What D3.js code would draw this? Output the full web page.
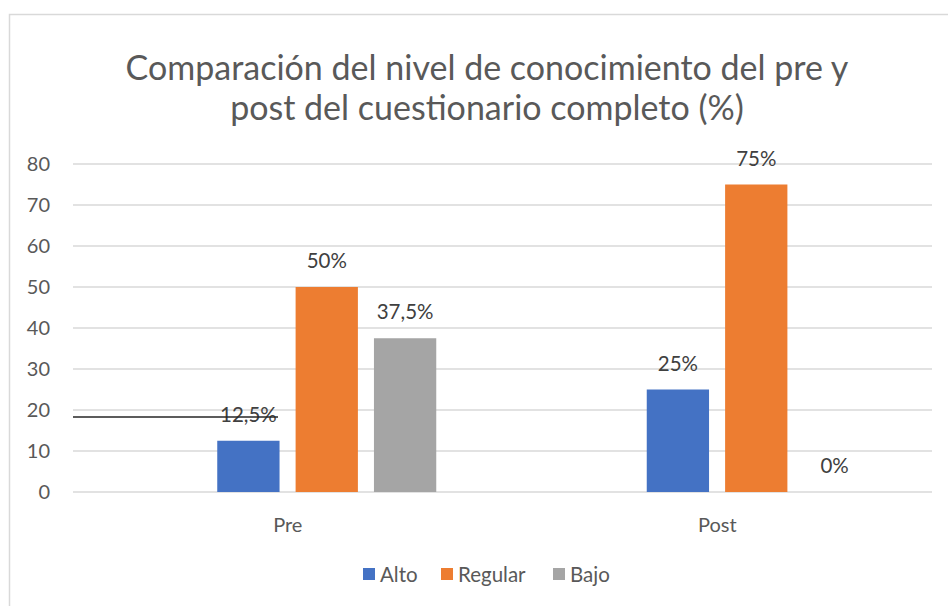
<!DOCTYPE html>
<html>
  <head>
    <meta charset="utf-8">
    <title>Comparación pre y post</title>
    <style>
      body { margin: 0; background: #fff; }
      text { font-family: Lato, "Open Sans", sans-serif; }
    </style>
  </head>
  <body>
    <script src="https://cdn.jsdelivr.net/npm/d3@7/dist/d3.min.js" charset="utf-8"></script>
    <script type="text/javascript">
      var categories = ["Pre", "Post"];
      var series = ["Alto", "Regular", "Bajo"];
      var colors = ["#4472c4", "#ed7d31", "#a5a5a5"];
      var alto = [12.5, 25];
      var regular = [50, 75];
      var bajo = [37.5, 0];
      var labels = [["12,5%", "25%"], ["50%", "75%"], ["37,5%", "0%"]];
      var yTicks = [0, 10, 20, 30, 40, 50, 60, 70, 80];
      var titleLines = ["Comparación del nivel de conocimiento del pre y",
                        "post del cuestionario completo (%)"];

      var values = [alto, regular, bajo];

      var width = 948;
      var height = 606;
      var svg = d3.select("body")
                  .append("svg")
                  .attr("width", width)
                  .attr("height", height);

      // chart border (only left/top inside the window)
      svg.append("rect")
         .attr("x", 9.5).attr("y", 14.5)
         .attr("width", 960).attr("height", 620)
         .attr("fill", "none")
         .attr("stroke", "#d9d9d9")
         .attr("stroke-width", 1.5);

      svg.selectAll(".title")
         .data(titleLines)
         .enter()
         .append("text")
         .attr("x", 487)
         .attr("y", function(d, i) { return 80 + i * 40; })
         .attr("text-anchor", "middle")
         .attr("fill", "#595959")
         .attr("font-size", 34)
         .text(function(d) { return d; });

      var x = d3.scaleBand().domain(categories).range([73, 932]);
      var y = d3.scaleLinear().domain([0, 80]).range([492, 164]);
      var inner = d3.scaleBand().domain(series).range([0, 219]).paddingInner(0.205);
      var shift = 39;

      svg.selectAll(".grid")
         .data(yTicks)
         .enter()
         .append("line")
         .attr("x1", 73).attr("x2", 932)
         .attr("y1", function(d) { return y(d); })
         .attr("y2", function(d) { return y(d); })
         .attr("stroke", "#d9d9d9")
         .attr("stroke-width", 1.3);

      svg.selectAll(".ytick")
         .data(yTicks)
         .enter()
         .append("text")
         .attr("x", 50)
         .attr("y", function(d) { return y(d) + 7; })
         .attr("text-anchor", "end")
         .attr("fill", "#595959")
         .attr("font-size", 20)
         .text(function(d) { return d; });

      var xAxis = svg.append("g")
                     .attr("transform", "translate(0,492)")
                     .call(d3.axisBottom(x).tickSize(0).tickPadding(26));
      xAxis.select(".domain").remove();
      xAxis.selectAll("text")
           .attr("fill", "#595959")
           .attr("font-size", 20)
           .attr("font-family", "Lato, 'Open Sans', sans-serif");

      function barX(si, ci) {
        return x(categories[ci]) + x.bandwidth() / 2 + shift - 109.5 + inner(series[si]);
      }

      series.forEach(function(s, si) {
        svg.selectAll(".bar" + si)
           .data(values[si])
           .enter()
           .append("rect")
           .attr("x", function(d, ci) { return barX(si, ci); })
           .attr("y", function(d) { return y(d); })
           .attr("width", inner.bandwidth())
           .attr("height", function(d) { return y(0) - y(d); })
           .attr("fill", colors[si]);

        svg.selectAll(".lab" + si)
           .data(values[si])
           .enter()
           .append("text")
           .attr("x", function(d, ci) { return barX(si, ci) + inner.bandwidth() / 2; })
           .attr("y", function(d) { return y(d) - 19; })
           .attr("text-anchor", "middle")
           .attr("fill", "#404040")
           .attr("font-size", 20.5)
           .text(function(d, ci) { return labels[si][ci]; });
      });

      // stray line through the 12,5% label
      svg.append("line")
         .attr("x1", 73).attr("x2", 278)
         .attr("y1", 417).attr("y2", 417)
         .attr("stroke", "#262626")
         .attr("stroke-width", 1.6);

      var legend = svg.append("g");
      var legX = [363, 441, 553];
      series.forEach(function(s, si) {
        legend.append("rect")
              .attr("x", legX[si]).attr("y", 568)
              .attr("width", 12).attr("height", 12)
              .attr("fill", colors[si]);
        legend.append("text")
              .attr("x", legX[si] + 17).attr("y", 582)
              .attr("fill", "#595959")
              .attr("font-size", 20.5)
              .text(s);
      });
    </script>
  </body>
</html>
